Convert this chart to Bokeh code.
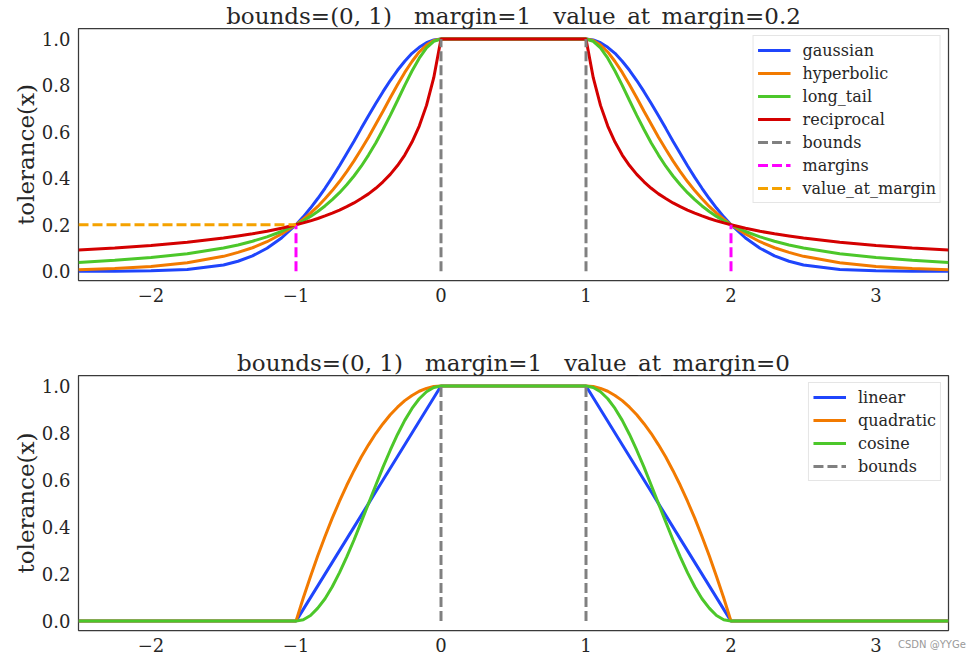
from bokeh.plotting import figure
from bokeh.layouts import column
from bokeh.models import Range1d, FixedTicker, Div, CustomJSTickFormatter, PrintfTickFormatter
from bokeh.embed import file_html
from bokeh.resources import INLINE

# ---------------- data ----------------
x = [-2.5, -2.25, -2.0, -1.75, -1.5, -1.4, -1.3, -1.2, -1.1, -1.0,
     -0.95, -0.9, -0.85, -0.8, -0.75, -0.7, -0.65, -0.6, -0.55, -0.5,
     -0.45, -0.4, -0.35, -0.3, -0.25, -0.2, -0.15, -0.1, -0.05, 0.0,
     1.0, 1.05, 1.1, 1.15, 1.2, 1.25, 1.3, 1.35, 1.4, 1.45,
     1.5, 1.55, 1.6, 1.65, 1.7, 1.75, 1.8, 1.85, 1.9, 1.95,
     2.0, 2.1, 2.2, 2.3, 2.4, 2.5, 2.75, 3.0, 3.25, 3.5]

gaussian = [0.000, 0.000, 0.002, 0.007, 0.027, 0.043, 0.066, 0.099, 0.143, 0.200,
            0.234, 0.272, 0.313, 0.357, 0.404, 0.454, 0.507, 0.560, 0.615, 0.669,
            0.722, 0.773, 0.821, 0.865, 0.904, 0.938, 0.964, 0.984, 0.996, 1.000,
            1.000, 0.996, 0.984, 0.964, 0.938, 0.904, 0.865, 0.821, 0.773, 0.722,
            0.669, 0.615, 0.560, 0.507, 0.454, 0.404, 0.357, 0.313, 0.272, 0.234,
            0.200, 0.143, 0.099, 0.066, 0.043, 0.027, 0.007, 0.002, 0.000, 0.000]

hyperbolic = [0.006, 0.012, 0.020, 0.036, 0.064, 0.081, 0.101, 0.127, 0.160, 0.200,
              0.224, 0.250, 0.279, 0.312, 0.347, 0.386, 0.429, 0.475, 0.525, 0.577,
              0.633, 0.689, 0.747, 0.803, 0.856, 0.903, 0.944, 0.974, 0.993, 1.000,
              1.000, 0.993, 0.974, 0.944, 0.903, 0.856, 0.803, 0.747, 0.689, 0.633,
              0.577, 0.525, 0.475, 0.429, 0.386, 0.347, 0.312, 0.279, 0.250, 0.224,
              0.200, 0.160, 0.127, 0.101, 0.081, 0.064, 0.036, 0.020, 0.012, 0.006]

long_tail = [0.038, 0.047, 0.059, 0.075, 0.100, 0.113, 0.129, 0.148, 0.171, 0.200,
             0.217, 0.236, 0.257, 0.281, 0.308, 0.338, 0.372, 0.410, 0.452, 0.500,
             0.552, 0.610, 0.671, 0.735, 0.800, 0.862, 0.917, 0.962, 0.990, 1.000,
             1.000, 0.990, 0.962, 0.917, 0.862, 0.800, 0.735, 0.671, 0.610, 0.552,
             0.500, 0.452, 0.410, 0.372, 0.338, 0.308, 0.281, 0.257, 0.236, 0.217,
             0.200, 0.171, 0.148, 0.129, 0.113, 0.100, 0.075, 0.059, 0.047, 0.038]

reciprocal = [0.091, 0.100, 0.111, 0.125, 0.143, 0.152, 0.161, 0.172, 0.185, 0.200,
              0.208, 0.217, 0.227, 0.238, 0.250, 0.263, 0.278, 0.294, 0.313, 0.333,
              0.357, 0.385, 0.417, 0.455, 0.500, 0.556, 0.625, 0.714, 0.833, 1.000,
              1.000, 0.833, 0.714, 0.625, 0.556, 0.500, 0.455, 0.417, 0.385, 0.357,
              0.333, 0.313, 0.294, 0.278, 0.263, 0.250, 0.238, 0.227, 0.217, 0.208,
              0.200, 0.185, 0.172, 0.161, 0.152, 0.143, 0.125, 0.111, 0.100, 0.091]

linear = [0.0, 0.0, 0.0, 0.0, 0.0, 0.0, 0.0, 0.0, 0.0, 0.0,
          0.05, 0.10, 0.15, 0.20, 0.25, 0.30, 0.35, 0.40, 0.45, 0.50,
          0.55, 0.60, 0.65, 0.70, 0.75, 0.80, 0.85, 0.90, 0.95, 1.00,
          1.00, 0.95, 0.90, 0.85, 0.80, 0.75, 0.70, 0.65, 0.60, 0.55,
          0.50, 0.45, 0.40, 0.35, 0.30, 0.25, 0.20, 0.15, 0.10, 0.05,
          0.0, 0.0, 0.0, 0.0, 0.0, 0.0, 0.0, 0.0, 0.0, 0.0]

quadratic = [0.0, 0.0, 0.0, 0.0, 0.0, 0.0, 0.0, 0.0, 0.0, 0.0,
             0.098, 0.190, 0.278, 0.360, 0.438, 0.510, 0.578, 0.640, 0.698, 0.750,
             0.798, 0.840, 0.878, 0.910, 0.938, 0.960, 0.978, 0.990, 0.998, 1.000,
             1.000, 0.998, 0.990, 0.978, 0.960, 0.938, 0.910, 0.878, 0.840, 0.798,
             0.750, 0.698, 0.640, 0.578, 0.510, 0.438, 0.360, 0.278, 0.190, 0.098,
             0.0, 0.0, 0.0, 0.0, 0.0, 0.0, 0.0, 0.0, 0.0, 0.0]

cosine = [0.0, 0.0, 0.0, 0.0, 0.0, 0.0, 0.0, 0.0, 0.0, 0.0,
          0.006, 0.024, 0.055, 0.095, 0.146, 0.206, 0.273, 0.345, 0.422, 0.500,
          0.578, 0.655, 0.727, 0.794, 0.854, 0.905, 0.946, 0.976, 0.994, 1.000,
          1.000, 0.994, 0.976, 0.946, 0.905, 0.854, 0.794, 0.727, 0.655, 0.578,
          0.500, 0.422, 0.345, 0.273, 0.206, 0.146, 0.095, 0.055, 0.024, 0.006,
          0.0, 0.0, 0.0, 0.0, 0.0, 0.0, 0.0, 0.0, 0.0, 0.0]

bounds = [0, 1]
margin = 1
value_at_margin_top = 0.2
x_ticks = [-2, -1, 0, 1, 2, 3]
y_ticks = [0.0, 0.2, 0.4, 0.6, 0.8, 1.0]
title_top = "bounds=(0, 1)\u00a0\u00a0 margin=1\u00a0\u00a0 value_at_margin=0.2"
title_bottom = "bounds=(0, 1)\u00a0\u00a0 margin=1\u00a0\u00a0 value_at_margin=0"
y_label = "tolerance(x)"
watermark = "CSDN @YYGe"

# ---------------- styling ----------------
FONT = "DejaVu Serif"
TXT = "#262626"
C_BLUE = "#1f45fc"
C_ORANGE = "#f27a00"
C_GREEN = "#4cc72a"
C_RED = "#d40000"
C_GRAY = "#808080"
C_MAG = "#ff00ff"
C_GOLD = "#f5a200"
LW = 3
DASH = "10 4"


def make_fig(title, top_border, frame_h, bottom_border):
    p = figure(frame_width=870, frame_height=frame_h,
               min_border_left=78, min_border_right=20,
               min_border_top=top_border, min_border_bottom=bottom_border,
               x_range=Range1d(-2.5, 3.5), y_range=Range1d(-0.04, 1.045),
               output_backend="svg", toolbar_location=None, title=title)
    p.title.text_font = FONT
    p.title.text_font_size = "23px"
    p.title.text_font_style = "normal"
    p.title.text_color = TXT
    p.title.align = "center"
    p.title.standoff = 0
    p.background_fill_color = "white"
    p.border_fill_color = "white"
    p.outline_line_color = "#3a3a3a"
    p.outline_line_width = 1.25
    p.xgrid.visible = False
    p.ygrid.visible = False
    for ax in (p.xaxis[0], p.yaxis[0]):
        ax.axis_line_color = None
        ax.major_tick_line_color = None
        ax.minor_tick_line_color = None
        ax.major_tick_out = 0
        ax.major_tick_in = 0
        ax.minor_tick_out = 0
        ax.minor_tick_in = 0
        ax.major_label_text_font = FONT
        ax.major_label_text_font_size = "18px"
        ax.major_label_text_color = TXT
    p.xaxis.ticker = FixedTicker(ticks=x_ticks)
    p.xaxis.formatter = CustomJSTickFormatter(
        code="return tick < 0 ? '\u2212' + Math.abs(tick) : String(tick);")
    p.xaxis.major_label_standoff = 7
    p.yaxis.ticker = FixedTicker(ticks=y_ticks)
    p.yaxis.formatter = PrintfTickFormatter(format="%.1f")
    p.yaxis.major_label_standoff = 8
    p.yaxis.axis_label = y_label
    p.yaxis.axis_label_text_font = FONT
    p.yaxis.axis_label_text_font_size = "23px"
    p.yaxis.axis_label_text_font_style = "normal"
    p.yaxis.axis_label_text_color = TXT
    p.yaxis.axis_label_standoff = 0
    return p


def style_legend(p):
    lg = p.legend[0]
    lg.location = "top_right"
    lg.margin = 7
    lg.padding = 4
    lg.spacing = 3
    lg.glyph_width = 33
    lg.glyph_height = 20
    lg.label_height = 20
    lg.label_standoff = 12
    lg.label_text_font = FONT
    lg.label_text_font_size = "16px"
    lg.label_text_color = TXT
    lg.border_line_color = "#cccccc"
    lg.border_line_width = 1
    lg.background_fill_alpha = 0.85


# ---------------- top figure ----------------
p1 = make_fig(title_top, 24, 252, 30)
p1.line(x, gaussian, line_color=C_BLUE, line_width=LW, legend_label="gaussian")
p1.line(x, hyperbolic, line_color=C_ORANGE, line_width=LW, legend_label="hyperbolic")
p1.line(x, long_tail, line_color=C_GREEN, line_width=LW, legend_label="long_tail")
p1.line(x, reciprocal, line_color=C_RED, line_width=LW, legend_label="reciprocal")
p1.segment(x0=bounds, y0=[0, 0], x1=bounds, y1=[1, 1], line_color=C_GRAY,
           line_width=LW, line_dash=DASH, legend_label="bounds")
margins = [bounds[0] - margin, bounds[1] + margin]
p1.segment(x0=margins, y0=[0, 0], x1=margins, y1=[value_at_margin_top] * 2,
           line_color=C_MAG, line_width=LW, line_dash=DASH, legend_label="margins")
p1.segment(x0=[x[0]], y0=[value_at_margin_top], x1=[margins[0]], y1=[value_at_margin_top],
           line_color=C_GOLD, line_width=LW, line_dash=DASH, legend_label="value_at_margin")
style_legend(p1)

# ---------------- bottom figure ----------------
p2 = make_fig(title_bottom, 65, 255, 28)
p2.line(x, linear, line_color=C_BLUE, line_width=LW, legend_label="linear")
p2.line(x, quadratic, line_color=C_ORANGE, line_width=LW, legend_label="quadratic")
p2.line(x, cosine, line_color=C_GREEN, line_width=LW, legend_label="cosine")
p2.segment(x0=bounds, y0=[0, 0], x1=bounds, y1=[1, 1], line_color=C_GRAY,
           line_width=LW, line_dash=DASH, legend_label="bounds")
style_legend(p2)

mark = Div(text=watermark, width=70, height=14, margin=(-20, 0, 0, 898),
           styles={"font-family": "DejaVu Sans", "font-size": "10px",
                   "color": "#9a9a9a", "line-height": "14px", "white-space": "nowrap"})

layout = column(p1, p2, mark, spacing=0)
open("out.html", "w").write(file_html(layout, INLINE))
